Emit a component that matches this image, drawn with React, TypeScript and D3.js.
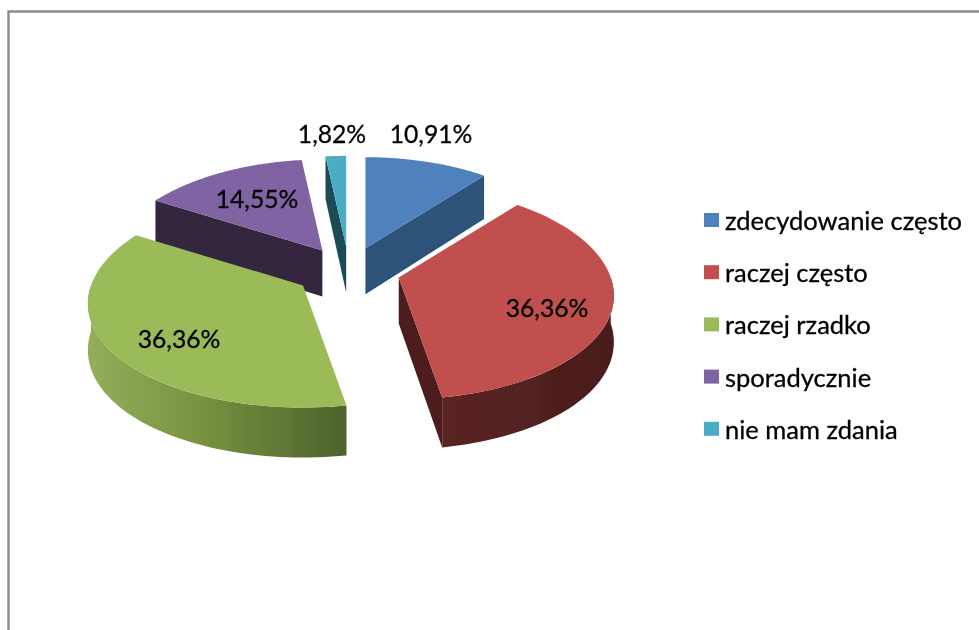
import React from "react";
import * as d3 from "d3";

const categories = ["zdecydowanie często", "raczej często", "raczej rzadko", "sporadycznie", "nie mam zdania"];
const values = [10.91, 36.36, 36.36, 14.55, 1.82];
const valueLabels = ["10,91%", "36,36%", "36,36%", "14,55%", "1,82%"];
const topColors = ["#4F81BD", "#C0504D", "#9BBB59", "#8064A2", "#4BACC6"];
const wallColors = ["#2F5279", "#4E1F1E", "#5F7736", "#36273F", "#1F4B55"];
const labelPositions: [number, number][] = [[431, 133], [547, 307], [179, 338], [257, 198], [332, 133]];
const sliceNudgeX = [0, 0, -3, 0, 0];

const W = 979, H = 630;
const cx = 349, cy = 271, R = 212, K = 104.3, P = 0.146, PX = 0.17, E = 0.24;
const FONT = "Lato, Carlito, Calibri, sans-serif";

// Perspective projection of a unit-disc plane point, relative to the origin.
const proj = (X: number, Y: number): [number, number] => [
  (R * X) / (1 + PX * Y),
  (-K * Y) / (1 + P * Y),
];
const wallH = (Y: number) => 46 / (1 + 0.08 * Y);
const line = d3.line();

const arcs = d3.pie<number>().sort(null).startAngle(0).endAngle(2 * Math.PI)(values);

const slices = arcs.map((a, i) => {
  const mid = (a.startAngle + a.endAngle) / 2;
  const [ax, ay] = proj(E * Math.sin(mid), E * Math.cos(mid));
  const apex: [number, number] = [cx + ax + sliceNudgeX[i], cy + ay];
  const rim = (t: number): [number, number] => {
    const [x, y] = proj(Math.sin(t), Math.cos(t));
    return [apex[0] + x, apex[1] + y];
  };
  const down = (p: [number, number], Y: number): [number, number] => [p[0], p[1] + wallH(Y)];
  const steps = d3.range(0, 61).map((k) => a.startAngle + ((a.endAngle - a.startAngle) * k) / 60);
  const top = line([apex, ...steps.map(rim)]) + "Z";
  const cutWall = (t: number) => {
    const r = rim(t);
    return line([apex, r, down(r, Math.cos(t)), down(apex, 0)]) + "Z";
  };
  const outerWall = (t0: number, t1: number) => {
    const ts = d3.range(0, 61).map((k) => t0 + ((t1 - t0) * k) / 60);
    const upper = ts.map(rim);
    const lower = ts.map((t) => down(rim(t), Math.cos(t))).reverse();
    return line([...upper, ...lower]) + "Z";
  };
  return { a, i, apex, top, cutWall, outerWall };
});

const [blue, red, green, purple, cyan] = slices;

export default function App() {
  return (
    <svg width={W} height={H} viewBox={`0 0 ${W} ${H}`} style={{ position: "absolute", left: 0, top: 0, display: "block", background: "#fff" }}>
      <defs>
        <linearGradient id="greenWall" gradientUnits="userSpaceOnUse" x1={92} x2={341} y1={0} y2={0}>
          <stop offset="0" stopColor="#93AE5A" />
          <stop offset="0.45" stopColor="#77913F" />
          <stop offset="1" stopColor="#4F632D" />
        </linearGradient>
        <linearGradient id="redWall" gradientUnits="userSpaceOnUse" x1={445} x2={612} y1={0} y2={0}>
          <stop offset="0" stopColor="#5A2524" />
          <stop offset="1" stopColor="#4A1C1C" />
        </linearGradient>
        <filter id="soft" x="-5%" y="-5%" width="110%" height="110%">
          <feGaussianBlur stdDeviation="0.55" />
        </filter>
      </defs>
      <path d={`M8.5 ${H}V11.5H${W}`} fill="none" stroke="#8C8C8C" strokeWidth={2.4} />
      <g filter="url(#soft)">
        <path d={purple.cutWall(purple.a.startAngle)} fill={wallColors[3]} />
        <path d={purple.top} fill={topColors[3]} />
        <path d={cyan.cutWall(cyan.a.startAngle)} fill={wallColors[4]} />
        <path d={cyan.top} fill={topColors[4]} />
        <path d={blue.cutWall(blue.a.endAngle)} fill={wallColors[0]} />
        <path d={blue.top} fill={topColors[0]} />
        <path d={green.outerWall(green.a.startAngle, (3 * Math.PI) / 2)} fill="url(#greenWall)" />
        <path d={green.top} fill={topColors[2]} />
        <path d={red.cutWall(red.a.endAngle)} fill={wallColors[1]} />
        <path d={red.outerWall(Math.PI / 2, red.a.endAngle)} fill="url(#redWall)" />
        <path d={red.top} fill={topColors[1]} />
        {categories.map((c, i) => (
          <rect key={c} x={704} y={213 + i * 52.2} width={15} height={14} fill={topColors[i]} />
        ))}
        <g fontFamily={FONT} fill="#000" stroke="#000" strokeWidth={0.3}>
          {valueLabels.map((l, i) => (
            <text key={i} x={labelPositions[i][0]} y={labelPositions[i][1]} fontSize={24.7} textAnchor="middle" dominantBaseline="central">{l}</text>
          ))}
          {categories.map((c, i) => (
            <text key={c} x={725} y={220 + i * 52.2} fontSize={25.5} dominantBaseline="central">{c}</text>
          ))}
        </g>
      </g>
    </svg>
  );
}
